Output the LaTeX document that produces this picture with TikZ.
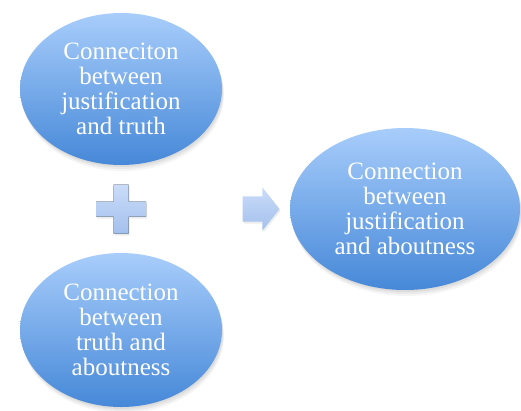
\documentclass[tikz,border=0pt]{standalone}
\usepackage{fontspec}
\setmainfont{Liberation Serif}
\usetikzlibrary{shapes.geometric, shapes.arrows, shadows}

\definecolor{ovaltop}{RGB}{168,205,251}
\definecolor{ovalmid}{RGB}{140,184,243}
\definecolor{ovalbottom}{RGB}{70,136,216}
\definecolor{signtop}{RGB}{202,220,249}
\definecolor{signbottom}{RGB}{163,192,237}

\begin{document}
\begin{tikzpicture}[x=1pt, y=1pt, node distance=120pt, soft shadow/.style={drop shadow={shadow xshift=1pt, shadow yshift=-2pt, opacity=.12}, drop shadow={shadow xshift=1.5pt, shadow yshift=-4pt, opacity=.1}, drop shadow={shadow xshift=2pt, shadow yshift=-6pt, opacity=.08}}, idea node/.style={ellipse, draw=none, top color=ovaltop, middle color=ovalmid, bottom color=ovalbottom, text=white, align=center, inner sep=0pt, font=\fontsize{25}{25}\selectfont, soft shadow}, sign/.style={draw=none, top color=signtop, bottom color=signbottom, drop shadow={shadow xshift=1pt, shadow yshift=-2pt, opacity=.15}}] %x and y in pt so sizes read as pixels
\useasboundingbox (0,0) rectangle (521,-410);
\node[idea node, minimum width=202pt, minimum height=152pt](justtruth) at (121,-89) {Conneciton\\between\\justification\\and truth};
\coordinate[below of=justtruth](plus);
\node[idea node, minimum width=202pt, minimum height=154pt, node distance=121pt](truthabout)[below of=plus]{Connection\\between\\truth and\\aboutness};
\node[idea node, minimum width=230pt, minimum height=162pt, node distance=284pt](justabout)[right of=plus]{Connection\\between\\justification\\and aboutness};
\node[sign, single arrow, minimum height=37pt, inner xsep=0pt, inner ysep=12.5pt, single arrow head extend=9pt, single arrow tip angle=103, node distance=135pt](arrow)[right of=plus]{};
% the plus sign
\fill[sign, shift={(plus)}] (-25,7.5) -- (-7.5,7.5) -- (-7.5,24.5) -- (7.5,24.5) -- (7.5,7.5) -- (25,7.5) -- (25,-7.5) -- (7.5,-7.5) -- (7.5,-24.5) -- (-7.5,-24.5) -- (-7.5,-7.5) -- (-25,-7.5) -- cycle;
\end{tikzpicture}
\end{document}
